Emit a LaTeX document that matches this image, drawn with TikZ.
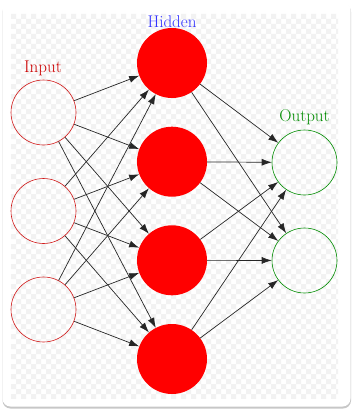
\documentclass[tikz,border=0pt]{standalone}
\usetikzlibrary{arrows.meta}
\begin{document}
\begin{tikzpicture}[x=1pt,y=-1pt,
  inneuron/.style={circle,draw=red!80!black!90,line width=0.6pt,minimum size=65pt,inner sep=0pt},
  hidneuron/.style={circle,fill=red,minimum size=70pt,inner sep=0pt},
  outneuron/.style={circle,draw=green!55!black,line width=0.6pt,minimum size=65pt,inner sep=0pt},
  conn/.style={draw=black!85,line width=0.7pt,-{Latex[length=10pt,width=7pt]}},
  lbl/.style={font=\fontsize{17}{20}\selectfont,anchor=base},
  chk/.style={fill=black!5}]
\useasboundingbox (0,0) rectangle (354,412);
% card
\fill[black!22,rounded corners=8pt] (2.5,4) rectangle (351,408.5);
\fill[white,rounded corners=8pt] (2.5,2.5) rectangle (350.5,406.5);
% checker background
\begin{scope}
\clip (11,14) rectangle (338,398);
\foreach \i in {0,...,65}{
  \pgfmathtruncatemacro\o{mod(\i,2)}
  \fill[chk] \foreach \j in {0,2,...,78}{ (11+\i*5,14+\j*5+\o*5) rectangle ++(5,5) };
}
\end{scope}
% nodes
\node[inneuron] (I1) at (43.5,112.5) {};
\node[inneuron] (I2) at (43.5,211) {};
\node[inneuron] (I3) at (43.5,309.5) {};
\node[hidneuron] (H1) at (172,63) {};
\node[hidneuron] (H2) at (172,161.7) {};
\node[hidneuron] (H3) at (172,260.3) {};
\node[hidneuron] (H4) at (172,359) {};
\node[outneuron] (O1) at (304.5,162.5) {};
\node[outneuron] (O2) at (304.5,260.5) {};
% labels
\node[lbl,text=red!80!black] (LI) at (43,72.5) {Input};
\node[lbl,text=blue!80] (LH) at (172,27.5) {Hidden};
\node[lbl,text=green!55!black] (LO) at (304.5,121.5) {Output};
% connections
\foreach \a in {1,2,3}{
  \foreach \b in {1,2,3,4}{
    \draw[conn] (I\a) -- (H\b);
  }
}
\foreach \a in {1,2,3,4}{
  \foreach \b in {1,2}{
    \draw[conn] (H\a) -- (O\b);
  }
}
\end{tikzpicture}
\end{document}
